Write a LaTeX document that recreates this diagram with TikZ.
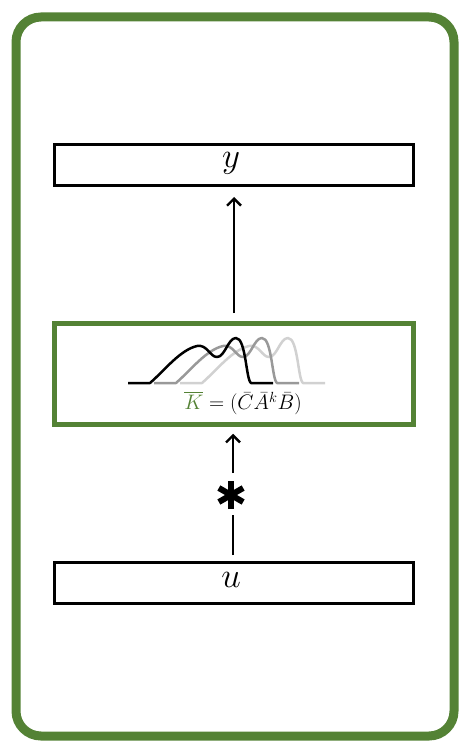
\RequirePackage{fix-cm}
\documentclass[tikz,border=0pt]{standalone}
\usepackage{amsmath}
\usetikzlibrary{arrows.meta}
\definecolor{frameGreen}{RGB}{84,130,53}
\begin{document}
\begin{tikzpicture}[x=1pt,y=-1pt,
  blackbox/.style={draw=black,line width=3pt,minimum width=359pt,minimum height=41pt,inner sep=0pt},
  greenbox/.style={draw=frameGreen,line width=4.5pt,minimum width=359pt,minimum height=101pt,inner sep=0pt},
  conn/.style={line width=2.4pt,-{Straight Barb[length=7pt,width=14pt,line width=2.4pt]}},
  plain/.style={line width=2.4pt},
  curve/.style={line width=2.5pt,line join=round},
  boxlabel/.style={font=\fontsize{35}{38}\selectfont},
  formulastyle/.style={font=\fontsize{21}{23}\selectfont}]
\useasboundingbox (0,0) rectangle (470,751);
\draw[frameGreen,line width=9pt,rounded corners=25pt] (16,17) rectangle (454,736);

\node[blackbox] (ybox) at (234,165) {};
\node[boxlabel] (ylab) at (231,163) {$y$};
\node[greenbox] (mid) at (234,374) {};
\node[blackbox] (ubox) at (234,583) {};
\node[boxlabel] (ulab) at (231,580) {$u$};

\coordinate (mtop) at (234,313);
\draw[conn] (mtop) -- ([yshift=-10pt]ybox.south);

\coordinate (a1) at (233,555);
\coordinate (a2) at (233,515);
\coordinate (a3) at (233,473);
\draw[plain] (a1) -- (a2);
\draw[conn] (a3) -- ([yshift=-7pt]mid.south -| a3);

% asterisk
\coordinate (ast) at (231,495);
\foreach \ang in {90,30,150}{
  \draw[line width=6pt] ([shift={(\ang:14)}]ast) -- ([shift={(\ang+180:14)}]ast);
}

% curves
\foreach \dx/\col in {52/black!18,26/black!40,0/black}{
  \begin{scope}[xshift=\dx]
  \draw[curve,\col] (128,383) -- (150,383)
    .. controls (165,370) and (180,350) .. (197,346)
    .. controls (207,344) and (210,357) .. (217,357)
    .. controls (225,357) and (228,338) .. (236,338)
    .. controls (246,338) and (246,380) .. (251,383) -- (273,383);
  \end{scope}
}

\node[formulastyle] (formula) at (243,403) {$\textcolor{frameGreen}{\overline{K}} = (\bar{C}\bar{A}^{k}\bar{B})$};
\end{tikzpicture}
\end{document}
